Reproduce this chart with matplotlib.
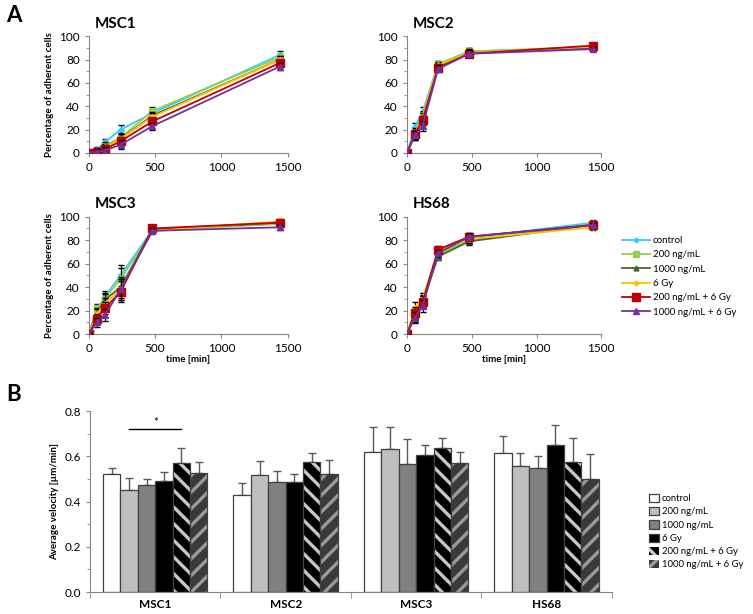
import numpy as np
import matplotlib.pyplot as plt
from matplotlib.ticker import MultipleLocator, FormatStrFormatter
from matplotlib.patches import Patch
from matplotlib.lines import Line2D

plt.rcParams['font.family'] = ['Lato', 'DejaVu Sans']
plt.rcParams['hatch.linewidth'] = 2.4

# ---- panel A data ----
times = [0, 60, 120, 240, 480, 1440]
treatments = ['control', '200 ng/mL', '1000 ng/mL', '6 Gy', '200 ng/mL + 6 Gy', '1000 ng/mL + 6 Gy']
line_colors = ['#33CCFF', '#92D050', '#4F6228', '#FFC000', '#C00000', '#7030A0']
line_markers = ['D', 's', '^', 'D', 's', '^']
marker_sizes = [3, 5, 4, 3, 6, 5]

msc1 = [[0, 3, 9, 20, 34, 84],
        [0, 2, 6, 13, 36, 82],
        [0, 2, 5, 12, 32, 80],
        [0, 2, 5, 12, 31, 80],
        [0, 1, 3, 10, 27, 77],
        [0, 1, 2, 7, 23, 74]]
msc2 = [[0, 22, 35, 76, 87, 90],
        [0, 15, 32, 76, 87, 91],
        [0, 16, 28, 74, 86, 90],
        [0, 17, 30, 75, 86, 91],
        [0, 16, 28, 73, 85, 92],
        [0, 15, 23, 72, 85, 89]]
msc3 = [[0, 20, 32, 50, 89, 94],
        [0, 22, 30, 47, 88, 94],
        [0, 18, 29, 40, 89, 95],
        [0, 17, 26, 38, 88, 96],
        [0, 13, 22, 36, 90, 95],
        [0, 10, 16, 38, 88, 91]]
hs68 = [[0, 17, 30, 67, 82, 95],
        [0, 16, 28, 68, 80, 94],
        [0, 15, 27, 66, 79, 93],
        [0, 22, 30, 71, 81, 91],
        [0, 18, 27, 72, 83, 93],
        [0, 14, 24, 69, 83, 93]]
# one error level per time point (same for all treatments, rough)
msc1_err = [0, 2, 3, 4, 3, 3]
msc2_err = [0, 4, 4, 3, 3, 2]
msc3_err = [0, 4, 5, 9, 2, 2]
hs68_err = [0, 5, 5, 3, 3, 2]

# ---- panel B data ----
cell_lines = ['MSC1', 'MSC2', 'MSC3', 'HS68']
velocity = [[0.52, 0.43, 0.62, 0.615],
            [0.45, 0.515, 0.63, 0.555],
            [0.475, 0.485, 0.565, 0.55],
            [0.49, 0.485, 0.605, 0.65],
            [0.57, 0.575, 0.635, 0.575],
            [0.525, 0.52, 0.57, 0.50]]
velocity_err = [[0.028, 0.05, 0.11, 0.075],
                [0.055, 0.065, 0.10, 0.06],
                [0.025, 0.05, 0.11, 0.05],
                [0.04, 0.035, 0.045, 0.09],
                [0.065, 0.04, 0.045, 0.105],
                [0.05, 0.065, 0.05, 0.11]]
bar_faces = ['white', '#BFBFBF', '#808080', 'black', 'black', '#3A3A3A']
bar_hatches = [None, None, None, None, '\\\\', '//']
hatch_colors = [None, None, None, None, '#C8C8C8', '#9A9A9A']

fig = plt.figure(figsize=(7.53, 6.14), dpi=100)

spine_col = '#868686'


def line_panel(rect, data, err, title, ylabel, xlabel):
    ax = fig.add_axes(rect)
    for i, series in enumerate(data):
        ax.errorbar(times, series, yerr=err, color=line_colors[i], marker=line_markers[i],
                    markersize=marker_sizes[i], linewidth=1.3, ecolor='black',
                    elinewidth=0.8, capsize=2.5, zorder=3 + i)
    ax.set_xlim(0, 1500)
    ax.set_ylim(0, 100)
    ax.set_xticks([0, 500, 1000, 1500])
    ax.set_yticks([0, 20, 40, 60, 80, 100])
    ax.yaxis.set_minor_locator(MultipleLocator(10))
    ax.spines['top'].set_visible(False)
    ax.spines['right'].set_visible(False)
    for s in ['left', 'bottom']:
        ax.spines[s].set_color(spine_col)
    ax.tick_params(labelsize=8.5, color=spine_col, length=3)
    ax.tick_params(which='minor', color=spine_col, length=2)
    ax.set_title(title, loc='left', fontsize=11, fontweight='bold', x=0.03, pad=6)
    if ylabel:
        ax.set_ylabel('Percentage of adherent cells', fontsize=7, fontweight='bold')
    if xlabel:
        ax.set_xlabel('time [min]', fontsize=7, fontweight='bold', labelpad=1)
    return ax


line_panel([0.118, 0.751, 0.264, 0.190], msc1, msc1_err, 'MSC1', True, False)
line_panel([0.5405, 0.751, 0.258, 0.190], msc2, msc2_err, 'MSC2', False, False)
line_panel([0.118, 0.456, 0.264, 0.191], msc3, msc3_err, 'MSC3', True, True)
line_panel([0.5405, 0.456, 0.258, 0.191], hs68, hs68_err, 'HS68', False, True)

handles = [Line2D([], [], color=line_colors[i], marker=line_markers[i],
                  markersize=marker_sizes[i] - 0.5, linewidth=1.3) for i in range(6)]
fig.legend(handles, treatments, loc='upper left', bbox_to_anchor=(0.815, 0.63),
           frameon=False, fontsize=7, handlelength=2.8, labelspacing=0.55, handletextpad=0.3)

# ---- panel B ----
axb = fig.add_axes([0.1195, 0.0358, 0.693, 0.2948])
x = np.arange(len(cell_lines))
w = 0.8 / 6
for i in range(6):
    pos = x - 0.4 + w * (i + 0.5)
    if bar_hatches[i]:
        axb.bar(pos, velocity[i], w, color=bar_faces[i], edgecolor=hatch_colors[i],
                hatch=bar_hatches[i], linewidth=0, zorder=2)
        axb.bar(pos, velocity[i], w, fill=False, edgecolor='#404040', linewidth=0.9, zorder=3)
    else:
        axb.bar(pos, velocity[i], w, color=bar_faces[i], edgecolor='#404040',
                linewidth=0.9, zorder=2)
    axb.errorbar(pos, velocity[i], yerr=[np.zeros(4), velocity_err[i]], fmt='none',
                 ecolor='#595959', elinewidth=1.0, capsize=3, capthick=1.0, zorder=1)

axb.set_xlim(-0.5, 3.5)
axb.set_ylim(0, 0.8)
axb.set_yticks([0, 0.2, 0.4, 0.6, 0.8])
axb.yaxis.set_major_formatter(FormatStrFormatter('%.1f'))
axb.yaxis.set_minor_locator(MultipleLocator(0.1))
axb.set_xticks(x)
axb.set_xticklabels(cell_lines, fontweight='bold', fontsize=8.5)
axb.set_xticks(np.arange(-0.5, 4, 1), minor=True)
axb.tick_params(axis='x', which='major', length=0, pad=5)
axb.tick_params(axis='x', which='minor', length=4, color=spine_col)
axb.tick_params(axis='y', labelsize=8.5, color=spine_col, length=3)
axb.tick_params(axis='y', which='minor', color=spine_col, length=2)
axb.spines['top'].set_visible(False)
axb.spines['right'].set_visible(False)
for s in ['left', 'bottom']:
    axb.spines[s].set_color(spine_col)
axb.set_ylabel('Average velocity [µm/min]', fontsize=7, fontweight='bold')

# significance bracket MSC1: 200 ng/mL vs 200 ng/mL + 6 Gy
p1 = x[0] - 0.4 + w * 1.5
p2 = x[0] - 0.4 + w * 4.5
axb.plot([p1, p2], [0.72, 0.72], color='black', linewidth=1)
axb.text((p1 + p2) / 2, 0.725, '*', ha='center', va='bottom', fontsize=8)

bar_handles = []
for i in range(6):
    if bar_hatches[i]:
        bar_handles.append(Patch(facecolor=bar_faces[i], edgecolor=hatch_colors[i],
                                 hatch=bar_hatches[i], linewidth=0))
    else:
        bar_handles.append(Patch(facecolor=bar_faces[i], edgecolor='#404040', linewidth=0.9))
fig.legend(bar_handles, treatments, loc='upper left', bbox_to_anchor=(0.855, 0.205),
           frameon=False, fontsize=6.8, handlelength=1.0, handleheight=1.0,
           labelspacing=0.4, handletextpad=0.3, borderaxespad=0.2)

fig.text(0.008, 0.975, 'A', fontsize=16, fontweight='bold', va='center')
fig.text(0.008, 0.358, 'B', fontsize=16, fontweight='bold', va='center')

fig.savefig('out.png', dpi=100)
